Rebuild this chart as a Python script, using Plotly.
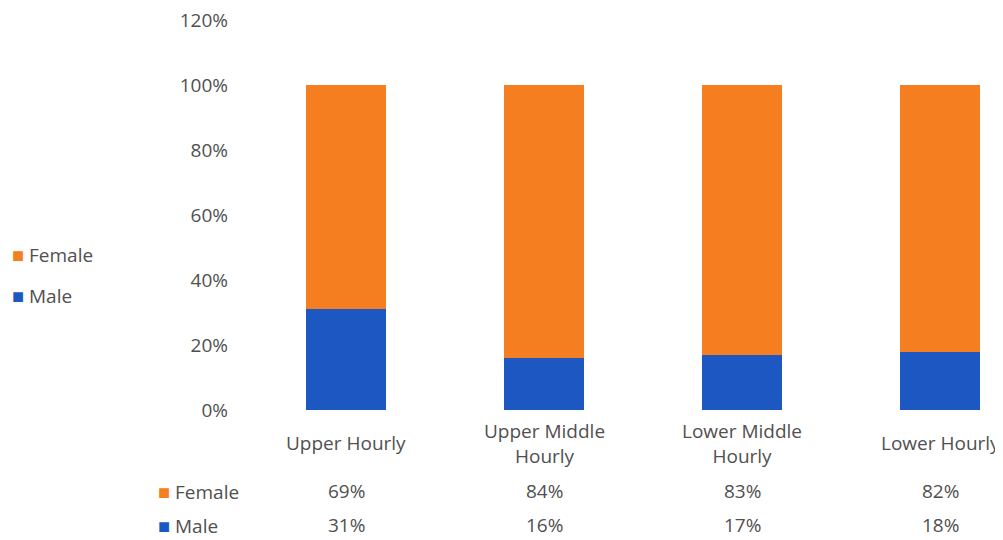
import plotly.graph_objects as go

categories = ["Upper Hourly", "Upper Middle Hourly", "Lower Middle Hourly", "Lower Hourly"]
category_labels = ["Upper Hourly", "Upper Middle<br>Hourly", "Lower Middle<br>Hourly", "Lower Hourly"]
female = [69, 84, 83, 82]
male = [31, 16, 17, 18]
y_ticks = [0, 20, 40, 60, 80, 100, 120]

ORANGE = "#F47E20"
BLUE = "#1D58C2"
TXT = "#505050"
FONT = "Open Sans"
FS = 19

fig = go.Figure()
fig.add_trace(go.Bar(x=categories, y=male, name="Male", marker_color=BLUE,
                     marker_line_width=0, width=0.4))
fig.add_trace(go.Bar(x=categories, y=female, name="Female", marker_color=ORANGE,
                     marker_line_width=0, width=0.4))


def key(name, col):
    return f"<span style='color:{col};font-size:20px'>■</span> {name}"


ann = []
# category labels
for c, lab in zip(categories, category_labels):
    ann.append(dict(x=c, xref="x", y=-0.085, yref="paper", text=lab, showarrow=False,
                    yanchor="middle", xanchor="center", font=dict(size=FS, color=TXT, family=FONT)))
# data table
rows = [("Female", female, ORANGE, -0.208), ("Male", male, BLUE, -0.296)]
for name, vals, col, yy in rows:
    ann.append(dict(x=-0.12, xref="paper", y=yy, yref="paper",
                    text=key(name, col), showarrow=False,
                    xanchor="left", yanchor="middle", font=dict(size=FS, color=TXT, family=FONT)))
    for c, v in zip(categories, vals):
        ann.append(dict(x=c, xref="x", y=yy, yref="paper", text=f"{v}%", showarrow=False,
                        xanchor="center", yanchor="middle", font=dict(size=FS, color=TXT, family=FONT)))
# left legend
for name, col, yy in [("Female", ORANGE, 0.4), ("Male", BLUE, 0.293)]:
    ann.append(dict(x=-0.314, xref="paper", y=yy, yref="paper",
                    text=key(name, col), showarrow=False,
                    xanchor="left", yanchor="middle", font=dict(size=FS, color=TXT, family=FONT)))

fig.update_layout(
    barmode="stack",
    width=995, height=532,
    margin=dict(l=239, r=0, t=12, b=130),
    plot_bgcolor="white", paper_bgcolor="white",
    showlegend=False,
    annotations=ann,
    xaxis=dict(range=[-0.5, 3.318], showticklabels=False, showgrid=False, zeroline=False,
               showline=False, ticks=""),
    yaxis=dict(range=[0, 120], tickvals=y_ticks, ticktext=[f"{t}%" for t in y_ticks],
               showgrid=False, zeroline=False, showline=False, ticks="",
               ticklabeloverflow="allow",
               tickfont=dict(size=19, color=TXT, family=FONT), ticklabelstandoff=18),
)
fig.write_html("out.html")
